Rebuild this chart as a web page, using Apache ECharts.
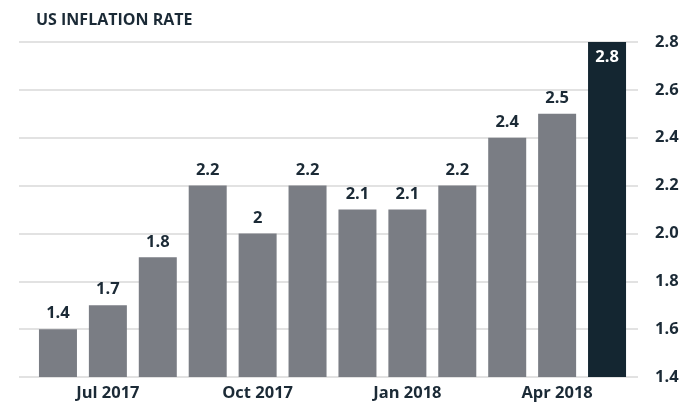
<!DOCTYPE html>
<html>
<head>
<meta charset="utf-8">
<script src="https://cdn.jsdelivr.net/npm/echarts@6/dist/echarts.min.js"></script>
<style>
  html, body { margin: 0; padding: 0; background: #fff; }
  #chart { width: 694px; height: 404px; }
</style>
</head>
<body>
<div id="chart"></div>
<script>
var months = ['Jun 2017', 'Jul 2017', 'Aug 2017', 'Sep 2017', 'Oct 2017', 'Nov 2017',
              'Dec 2017', 'Jan 2018', 'Feb 2018', 'Mar 2018', 'Apr 2018', 'May 2018'];
// bar heights as drawn
var rates = [1.6, 1.7, 1.9, 2.2, 2.0, 2.2, 2.1, 2.1, 2.2, 2.4, 2.5, 2.8];
// numbers printed over the bars
var rateLabels = ['1.4', '1.7', '1.8', '2.2', '2', '2.2', '2.1', '2.1', '2.2', '2.4', '2.5', '2.8'];
var yTicks = [1.4, 1.6, 1.8, 2.0, 2.2, 2.4, 2.6, 2.8];

var textColor = '#1b2a36';
var font = '"Open Sans", "Noto Sans", sans-serif';

var chart = echarts.init(document.getElementById('chart'));

var option = {
    animation: false,
    title: {
        text: 'US INFLATION RATE',
        left: 31,
        top: 7,
        textStyle: { color: textColor, fontFamily: font, fontWeight: 'bold', fontSize: 16 }
    },
    grid: [
        // wide grid, only for the gridlines
        { left: 19, right: 56, top: 42, bottom: 27 },
        // bars
        { left: 33, right: 62, top: 42, bottom: 27 }
    ],
    xAxis: [
        { gridIndex: 0, type: 'category', data: months, show: false },
        {
            gridIndex: 1,
            type: 'category',
            data: months,
            axisLine: { show: false },
            axisTick: { show: false },
            axisLabel: {
                interval: function (i) { return i % 3 === 1; },
                color: textColor,
                fontFamily: font,
                fontWeight: 'bold',
                fontSize: 16.5,
                margin: 8
            }
        }
    ],
    yAxis: [
        {
            gridIndex: 0,
            type: 'value',
            min: yTicks[0],
            max: yTicks[yTicks.length - 1],
            interval: 0.2,
            axisLabel: { show: false },
            axisLine: { show: false },
            axisTick: { show: false },
            splitLine: { lineStyle: { color: '#d9d9d9', width: 1.5 } }
        },
        {
            gridIndex: 1,
            type: 'value',
            position: 'right',
            min: yTicks[0],
            max: yTicks[yTicks.length - 1],
            interval: 0.2,
            axisLine: { show: false },
            axisTick: { show: false },
            splitLine: { show: false },
            axisLabel: {
                color: textColor,
                fontFamily: font,
                fontWeight: 'bold',
                fontSize: 16.5,
                margin: 23,
                formatter: function (v) { return v.toFixed(1); }
            }
        }
    ],
    series: [
        {
            type: 'bar',
            xAxisIndex: 1,
            yAxisIndex: 1,
            barWidth: 38,
            data: rates.map(function (v, i) {
                var last = i === rates.length - 1;
                return {
                    value: v,
                    itemStyle: { color: last ? '#142631' : '#7a7d84' },
                    label: last ? { position: 'insideTop', color: '#ffffff', distance: 7 } : {}
                };
            }),
            label: {
                show: true,
                position: 'top',
                distance: 7,
                color: textColor,
                fontFamily: font,
                fontWeight: 'bold',
                fontSize: 16.5,
                formatter: function (p) { return rateLabels[p.dataIndex]; }
            }
        }
    ]
};

chart.setOption(option);
</script>
</body>
</html>
